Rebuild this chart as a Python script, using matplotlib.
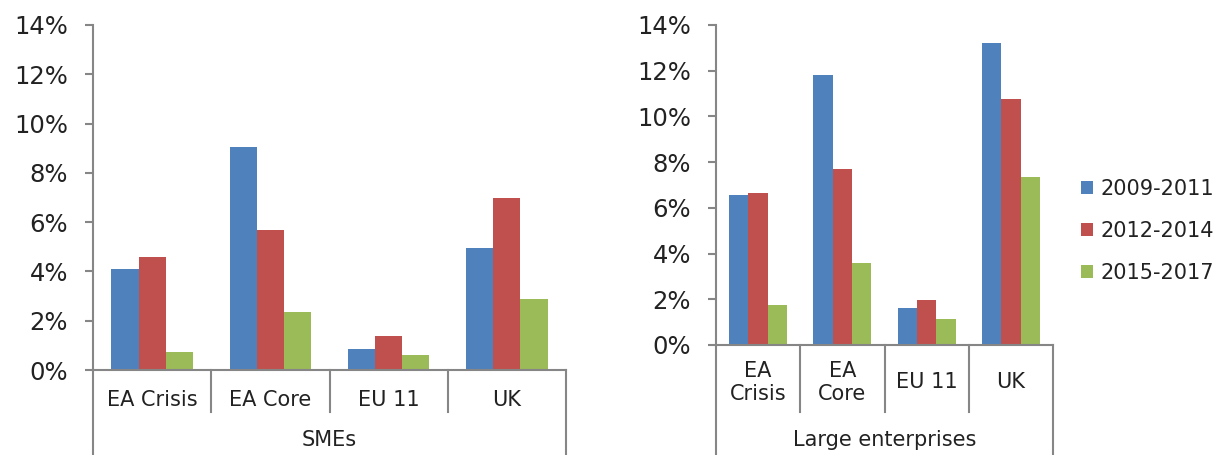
import numpy as np
import matplotlib.pyplot as plt
from matplotlib.ticker import FuncFormatter

# data (percent)
categories = ["EA Crisis", "EA Core", "EU 11", "UK"]
categories_large = ["EA\nCrisis", "EA\nCore", "EU 11", "UK"]
periods = ["2009-2011", "2012-2014", "2015-2017"]

sme_2009 = [4.1, 9.05, 0.85, 4.95]
sme_2012 = [4.6, 5.7, 1.4, 7.0]
sme_2015 = [0.75, 2.35, 0.6, 2.9]

large_2009 = [6.55, 11.8, 1.6, 13.2]
large_2012 = [6.65, 7.7, 1.95, 10.75]
large_2015 = [1.75, 3.6, 1.15, 7.35]

colors = ["#4F81BD", "#C0504D", "#9BBB59"]
axis_col = "#868686"

fig = plt.figure(figsize=(12.31, 4.55), dpi=100)
ax1 = fig.add_axes([93 / 1231, 85 / 455, 473 / 1231, 345 / 455])
ax2 = fig.add_axes([716 / 1231, 110 / 455, 337 / 1231, 320 / 455])


def draw_panel(ax, series, labels, group, inner_end, outer_end, lab_y, grp_y):
    x = np.arange(len(labels))
    w = 0.23
    bars = []
    for i, vals in enumerate(series):
        b = ax.bar(x + (i - 1) * w, vals, w, color=colors[i], label=periods[i])
        bars.append(b)
    ax.set_xlim(-0.5, len(labels) - 0.5)
    ax.set_ylim(0, 14)
    ax.set_yticks(np.arange(0, 15, 2))
    ax.yaxis.set_major_formatter(FuncFormatter(lambda v, p: f"{v:.0f}%"))
    ax.tick_params(axis="y", labelsize=17.5, colors=axis_col, labelcolor="#222222",
                   length=6, width=1.5, direction="out", pad=12)
    ax.set_xticks([])
    for s in ["top", "right"]:
        ax.spines[s].set_visible(False)
    for s in ["left", "bottom"]:
        ax.spines[s].set_color(axis_col)
        ax.spines[s].set_linewidth(1.5)
    tr = ax.get_xaxis_transform()
    # category separators
    for xs in np.arange(0.5, len(labels) - 1, 1.0):
        ax.plot([xs, xs], [0, inner_end], transform=tr, color=axis_col, lw=1.5, clip_on=False)
    for xs in [-0.5, len(labels) - 0.5]:
        ax.plot([xs, xs], [0, outer_end], transform=tr, color=axis_col, lw=1.5, clip_on=False)
    for xi, lab in zip(x, labels):
        ax.text(xi, lab_y, lab, transform=tr, ha="center", va="center",
                fontsize=15, color="#222222", linespacing=1.15)
    ax.text(0.5, grp_y, group, transform=ax.transAxes, ha="center", va="center",
            fontsize=15, color="#222222")
    return bars


draw_panel(ax1, [sme_2009, sme_2012, sme_2015], categories, "SMEs",
           -0.122, -0.3, -0.087, -0.203)
bars = draw_panel(ax2, [large_2009, large_2012, large_2015], categories_large,
                  "Large enterprises", -0.209, -0.4, -0.117, -0.297)

fig.legend(handles=bars, labels=periods, loc="center left",
           bbox_to_anchor=(1062 / 1231, 1 - 231 / 455), frameon=False,
           fontsize=15, handlelength=0.6, handleheight=0.6, handletextpad=0.35,
           labelspacing=1.05, labelcolor="#222222")

fig.savefig("out.png", dpi=100)
